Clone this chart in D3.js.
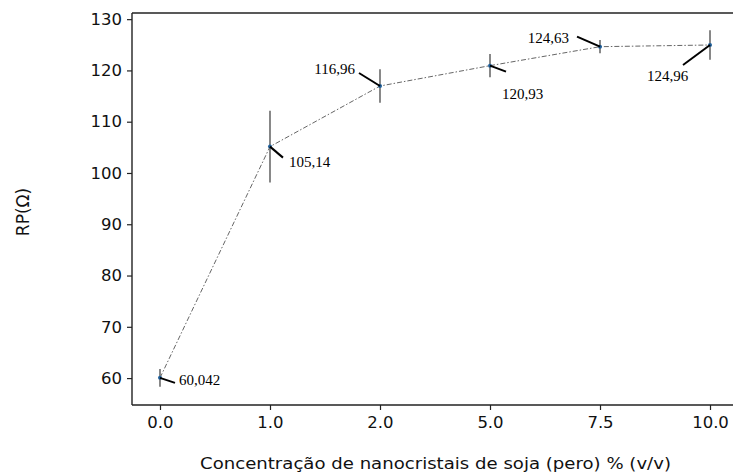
<!DOCTYPE html>
<html>
<head>
<meta charset="utf-8">
<script src="https://cdn.jsdelivr.net/npm/d3@7"></script>
<style>
  body { margin: 0; background: #fff; }
  svg { display: block; }
</style>
</head>
<body>
<svg id="chart"></svg>
<script>
// data
const xLabels = ["0.0", "1.0", "2.0", "5.0", "7.5", "10.0"];
const rpValues = [60.042, 105.14, 116.96, 120.93, 124.63, 124.96];
const rpErrors = [1.75, 7.0, 3.25, 2.25, 1.3, 2.9];
const noteLabels = ["60,042", "105,14", "116,96", "120,93", "124,63", "124,96"];
const yTicks = [60, 70, 80, 90, 100, 110, 120, 130];

const W = 733, H = 472;
const plotLeft = 132, plotRight = 738, plotTop = 13, plotBottom = 405;

const svg = d3.select("#chart").attr("width", W).attr("height", H);

const x = d3.scaleLinear().domain([-0.2545, 5.2545]).range([plotLeft, plotRight]);
const y = d3.scaleLinear().domain([54.75, 131.2]).range([plotBottom, plotTop]);

const fontSans = "DejaVu Sans, sans-serif";
const fontSerif = "Liberation Serif, Times New Roman, serif";

// y axis
const gy = svg.append("g")
  .attr("transform", "translate(" + plotLeft + ",0)")
  .call(d3.axisLeft(y).tickValues(yTicks).tickSize(5).tickPadding(5).tickFormat(d3.format("d")));
gy.select(".domain").attr("stroke", "#222").attr("stroke-width", 1.4).attr("d", "M0," + plotBottom + "V" + plotTop);
gy.selectAll(".tick line").attr("stroke", "#222").attr("stroke-width", 1.2);
gy.selectAll(".tick text").attr("font-family", fontSans).attr("font-size", 16.5).attr("fill", "#111");

// x axis
const gx = svg.append("g")
  .attr("transform", "translate(0," + plotBottom + ")")
  .call(d3.axisBottom(x).tickValues(d3.range(xLabels.length)).tickSize(5).tickPadding(6)
    .tickFormat(i => xLabels[i]));
gx.select(".domain").attr("stroke", "#222").attr("stroke-width", 1.4).attr("d", "M" + plotLeft + ",0H" + plotRight);
gx.selectAll(".tick line").attr("stroke", "#222").attr("stroke-width", 1.2);
gx.selectAll(".tick text").attr("font-family", fontSans).attr("font-size", 16.5).attr("fill", "#111");

// top spine
svg.append("line")
  .attr("x1", plotLeft).attr("x2", plotRight).attr("y1", plotTop).attr("y2", plotTop)
  .attr("stroke", "#222").attr("stroke-width", 1.4);

// axis labels (the x label is stretched wider in the original)
svg.append("text")
  .attr("x", 200).attr("y", 469)
  .attr("textLength", 471).attr("lengthAdjust", "spacingAndGlyphs")
  .attr("font-family", fontSans).attr("font-size", 16.5).attr("fill", "#111")
  .text("Concentração de nanocristais de soja (pero) % (v/v)");

svg.append("text")
  .attr("transform", "translate(29,212) rotate(-90)")
  .attr("text-anchor", "middle")
  .attr("font-family", fontSans).attr("font-size", 17).attr("fill", "#111")
  .text("RP(Ω)");

const pts = rpValues.map((v, i) => ({ i: i, v: v, e: rpErrors[i] }));

// error bars
svg.append("g").selectAll("line")
  .data(pts).join("line")
  .attr("x1", d => x(d.i)).attr("x2", d => x(d.i))
  .attr("y1", d => y(d.v - d.e)).attr("y2", d => y(d.v + d.e))
  .attr("stroke", "#555").attr("stroke-width", 1.4);

// dash-dot line
svg.append("path")
  .datum(pts)
  .attr("fill", "none")
  .attr("stroke", "#666")
  .attr("stroke-width", 1)
  .attr("stroke-dasharray", "5,2,1.5,2")
  .attr("d", d3.line().x(d => x(d.i)).y(d => y(d.v)));

// markers
svg.append("g").selectAll("circle")
  .data(pts).join("circle")
  .attr("cx", d => x(d.i)).attr("cy", d => y(d.v))
  .attr("r", 2)
  .attr("fill", "#1f5f9a");

// annotation offsets (pointer end, text anchor)
const notes = [
  { dx: 15, dy: 5, tx: 19, ty: 4, anchor: "start" },
  { dx: 13, dy: 11, tx: 19, ty: 17, anchor: "start" },
  { dx: -21, dy: -13, tx: -25, ty: -15, anchor: "end" },
  { dx: 16, dy: 6, tx: 12, ty: 30, anchor: "start" },
  { dx: -23, dy: -10, tx: -31, ty: -7, anchor: "end" },
  { dx: -27, dy: 20, tx: -63, ty: 33, anchor: "start" }
];

const ann = svg.append("g");
ann.selectAll("line")
  .data(pts).join("line")
  .attr("x1", d => x(d.i)).attr("y1", d => y(d.v))
  .attr("x2", d => x(d.i) + notes[d.i].dx).attr("y2", d => y(d.v) + notes[d.i].dy)
  .attr("stroke", "#000").attr("stroke-width", 2);

ann.selectAll("text")
  .data(pts).join("text")
  .attr("x", d => x(d.i) + notes[d.i].tx).attr("y", d => y(d.v) + notes[d.i].ty)
  .attr("text-anchor", d => notes[d.i].anchor)
  .attr("dominant-baseline", "middle")
  .attr("font-family", fontSerif).attr("font-size", 15).attr("fill", "#000")
  .text(d => noteLabels[d.i]);
</script>
</body>
</html>
